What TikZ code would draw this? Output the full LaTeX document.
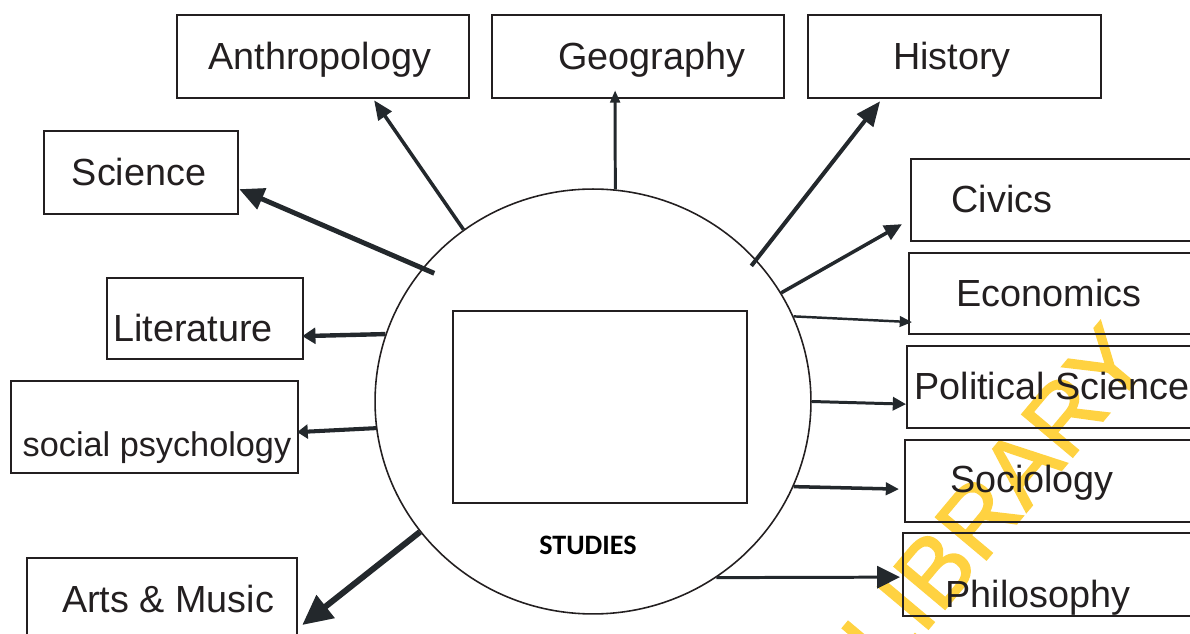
\documentclass[tikz,border=0pt]{standalone}
\usepackage{fontspec}
\setmainfont{Liberation Sans}
\newfontfamily\studyfont{Carlito}
\newfontfamily\stampfont{Liberation Sans}[FakeBold=1.5]
\usepackage{tikz}
\usetikzlibrary{arrows.meta, shapes.geometric, calc, positioning}
\definecolor{ink}{RGB}{35,40,44}
\definecolor{frame}{RGB}{35,31,32}
\definecolor{stampyellow}{RGB}{255,210,65}

\tikzset{
  box/.style={draw=frame, line width=1.3pt, anchor=north west, inner sep=0pt},
  word/.style={font=\fontsize{21.5}{25}\selectfont, text=frame, anchor=base, inner sep=0pt},
  feed/.style={draw=ink, line width=#1},
}

\begin{document}
\begin{tikzpicture}[x=0.02cm, y=-0.02cm]
            \useasboundingbox (0,0) rectangle (1190,634);
            \clip (0,0) rectangle (1190,634);
            % watermark behind everything
            \node[text=stampyellow, font=\stampfont\fontsize{55}{60}\selectfont, rotate=50, inner sep=0pt] (stamp) at (995,498) {LIBRARY};

            % centre
            \node[ellipse, draw=frame, line width=0.9pt, minimum width=8.72cm, minimum height=8.5cm, inner sep=0pt] (hub) at (593,401.5) {};
            \node[draw=frame, line width=1.4pt, minimum width=5.88cm, minimum height=3.84cm, inner sep=0pt] (inner) at (600,407) {};
            \node[font=\studyfont\bfseries\fontsize{16}{18}\selectfont, anchor=base, inner sep=0pt] (studies) at (588,555) {STUDIES};

            % boxes round the circle
            \node[box, minimum width=5.84cm, minimum height=1.66cm] (anth) at (176,14) {};
            \node[box, minimum width=5.84cm, minimum height=1.66cm] (geo) at (491,14) {};
            \node[box, minimum width=5.86cm, minimum height=1.66cm] (hist) at (807,14) {};
            \node[box, minimum width=3.88cm, minimum height=1.66cm] (sci) at (43,130) {};
            \node[box, minimum width=3.92cm, minimum height=1.62cm] (lit) at (106,277) {};
            \node[box, minimum width=5.74cm, minimum height=1.84cm] (soc) at (10,380) {};
            \node[box, minimum width=5.4cm, minimum height=2.26cm] (arts) at (26,557) {};
            \node[box, minimum width=5.8cm, minimum height=1.64cm] (civ) at (910,158) {};
            \node[box, minimum width=5.84cm, minimum height=1.62cm] (eco) at (908,252) {};
            \node[box, minimum width=5.88cm, minimum height=1.64cm] (pol) at (906,345) {};
            \node[box, minimum width=5.92cm, minimum height=1.64cm] (socio) at (904,439) {};
            \node[box, minimum width=5.96cm, minimum height=1.66cm] (phil) at (902,532) {};

            \node[word] (anthT) at (320,70) {Anthropology};
            \node[word] (geoT) at (652,70) {Geography};
            \node[word] (histT) at (952,70) {History};
            \node[word] (sciT) at (139,186) {Science};
            \node[word] (litT) at (193,342) {Literature};
            \node[word, font=\fontsize{19.5}{23}\selectfont] (socT) at (157,457) {social psychology};
            \node[word] (artsT) at (168,612) {Arts \& Music};
            \node[word] (civT) at (1002,213) {Civics};
            \node[word] (ecoT) at (1049,307) {Economics};
            \node[word] (polT) at (1052,400) {Political Science};
            \node[word] (socioT) at (1032,493) {Sociology};
            \node[word] (philT) at (1038,607) {Philosophy};

            % arrows out of the circle
            \draw[feed=2.8pt, -{Triangle[length=14pt, width=12.5pt]}, shorten <=-0.26cm] (hub.142) -- ($(sci.east)+(0,16.5)$);
            \draw[feed=2pt, -{Triangle[length=11pt, width=9pt]}] (hub.127) -- ($(anth.south)+(51,1)$);
            \draw[feed=1.7pt, -{Triangle[length=7pt, width=5.5pt]}] (hub.84) -- ($(geo.south)+(-23,-9)$);
            \draw[feed=2.3pt, -{Triangle[length=14pt, width=11.5pt]}, shorten <=-0.16cm] (hub.41) -- ($(hist.south)+(-74.5,2)$);
            \draw[feed=2pt, -{Triangle[length=10pt, width=9pt]}] (hub.30) -- ($(civ.west)+(-8,24)$);
            \draw[feed=1.4pt, -{Triangle[length=7pt, width=6pt]}] (hub.23) -- ($(eco.west)+(4,28.5)$);
            \draw[feed=1.7pt, -{Triangle[length=7.5pt, width=7.5pt]}] (hub.0) -- ($(pol.west)+(0,17)$);
            \draw[feed=2pt, -{Triangle[length=7.5pt, width=7pt]}] (hub.-23) -- ($(socio.west)+(-5,8)$);
            \draw[feed=1.7pt, -{Triangle[length=13pt, width=12.5pt]}] (hub.-55) -- ($(phil.west)+(-2,2.5)$);
            \draw[feed=2.5pt, -{Triangle[length=7.5pt, width=9pt]}] (hub.162) -- ($(lit.east)+(-2,17.5)$);
            \draw[feed=2.3pt, -{Triangle[length=6pt, width=8pt]}] (hub.187) -- ($(soc.east)+(-2,5)$);
            \draw[feed=3.4pt, -{Triangle[length=17pt, width=16pt]}] (hub.217) -- ($(arts.north east)+(4,68)$);
        \end{tikzpicture}
\end{document}
